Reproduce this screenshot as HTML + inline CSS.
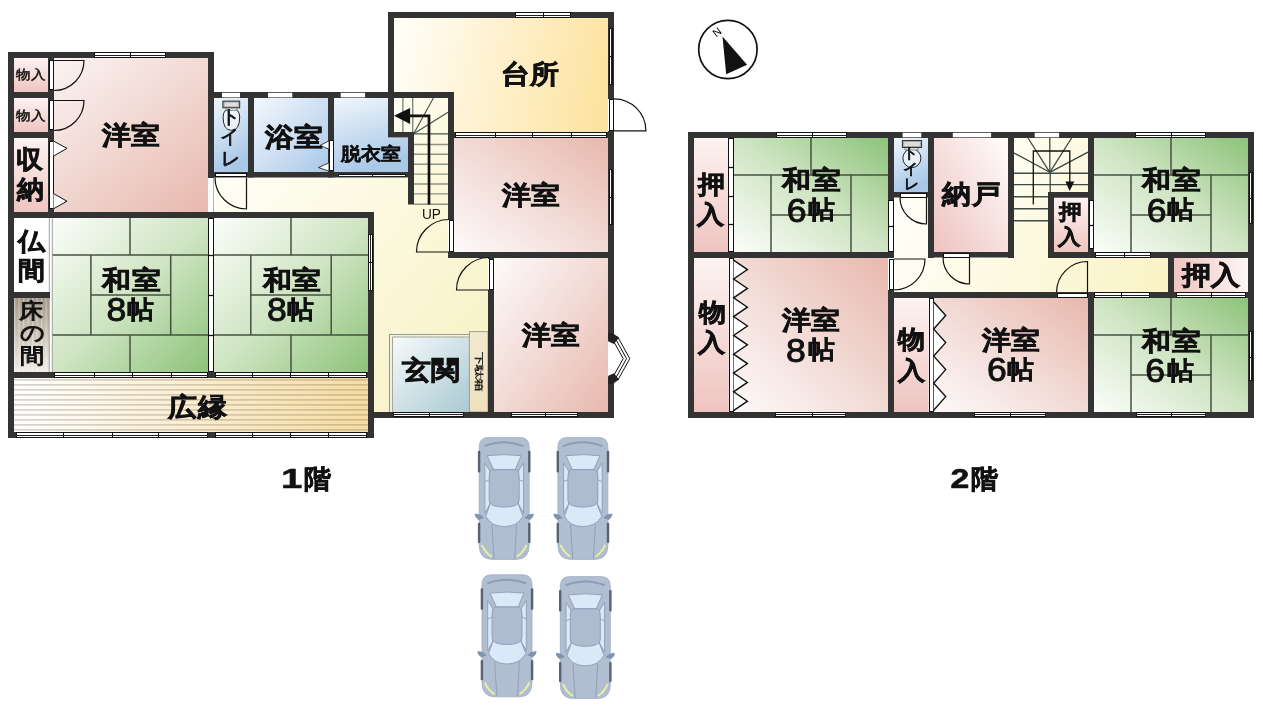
<!DOCTYPE html>
<html><head><meta charset="utf-8"><style>
html,body{margin:0;padding:0;background:#fff;}
svg{display:block;will-change:transform;}
text{font-family:"Liberation Sans",sans-serif;}
</style></head><body>
<svg width="1263" height="708" viewBox="0 0 1263 708">

<defs>
<linearGradient id="pinkTL" x1="0" y1="0" x2="1" y2="1"><stop offset="0" stop-color="#fdfafa"/><stop offset="0.5" stop-color="#f2dad5"/><stop offset="1" stop-color="#e8b8ad"/></linearGradient>
<linearGradient id="pinkBL" x1="0" y1="1" x2="1" y2="0"><stop offset="0" stop-color="#fdfafa"/><stop offset="0.5" stop-color="#f2dad5"/><stop offset="1" stop-color="#e8b8ad"/></linearGradient>
<linearGradient id="pinkTR" x1="1" y1="0" x2="0" y2="1"><stop offset="0" stop-color="#fefcfb"/><stop offset="0.5" stop-color="#f6e0de"/><stop offset="1" stop-color="#eec2c0"/></linearGradient>
<linearGradient id="pinkV" x1="0" y1="0" x2="0" y2="1"><stop offset="0" stop-color="#fcf3f2"/><stop offset="1" stop-color="#efc4c0"/></linearGradient>
<linearGradient id="pinkH" x1="1" y1="0" x2="0" y2="0"><stop offset="0" stop-color="#fdf6f5"/><stop offset="1" stop-color="#efc4c0"/></linearGradient>
<linearGradient id="greenTL" x1="0" y1="0" x2="1" y2="1"><stop offset="0" stop-color="#fbfdfa"/><stop offset="0.5" stop-color="#d0e5c4"/><stop offset="1" stop-color="#8dc37a"/></linearGradient>
<linearGradient id="greenBL" x1="0" y1="1" x2="1" y2="0"><stop offset="0" stop-color="#fbfdfa"/><stop offset="0.5" stop-color="#d0e5c4"/><stop offset="1" stop-color="#8dc37a"/></linearGradient>
<linearGradient id="blueTL" x1="0" y1="0" x2="1" y2="1"><stop offset="0" stop-color="#f4f8fd"/><stop offset="1" stop-color="#a9c8e8"/></linearGradient>
<linearGradient id="blueV" x1="0" y1="0" x2="0.3" y2="1"><stop offset="0" stop-color="#f0f6fc"/><stop offset="1" stop-color="#a9c8e8"/></linearGradient>
<linearGradient id="kitchen" x1="0" y1="0.45" x2="1" y2="0.55"><stop offset="0" stop-color="#fffdf6"/><stop offset="1" stop-color="#fde3a0"/></linearGradient>
<linearGradient id="hall" gradientUnits="userSpaceOnUse" x1="214" y1="178" x2="488" y2="412"><stop offset="0" stop-color="#fffef6"/><stop offset="1" stop-color="#f7f1c0"/></linearGradient>
<linearGradient id="hall2" gradientUnits="userSpaceOnUse" x1="894" y1="200" x2="1168" y2="292"><stop offset="0" stop-color="#fffef8"/><stop offset="1" stop-color="#f9f3c4"/></linearGradient>
<linearGradient id="stairs" x1="0" y1="0" x2="1" y2="1"><stop offset="0" stop-color="#fffef2"/><stop offset="1" stop-color="#faf6d6"/></linearGradient>
<linearGradient id="engawa" x1="0" y1="0" x2="1" y2="0"><stop offset="0" stop-color="#ffffff"/><stop offset="1" stop-color="#f6dca2"/></linearGradient>
<linearGradient id="tokonoma" x1="0" y1="0" x2="0" y2="1"><stop offset="0" stop-color="#a3978a"/><stop offset="0.6" stop-color="#d3ccc0"/><stop offset="1" stop-color="#efece6"/></linearGradient>
<linearGradient id="genkan" x1="0" y1="0" x2="1" y2="1"><stop offset="0" stop-color="#f7fafb"/><stop offset="1" stop-color="#a9c9d2"/></linearGradient>
<linearGradient id="getabako" x1="0" y1="0" x2="0" y2="1"><stop offset="0" stop-color="#f3e9cf"/><stop offset="1" stop-color="#efe1bd"/></linearGradient>
<pattern id="stripes" x="0" y="379" width="10" height="5" patternUnits="userSpaceOnUse"><rect x="0" y="0" width="10" height="1.7" fill="#6e6450" opacity="0.28"/></pattern>
<pattern id="grain" x="14" y="298" width="4.5" height="10" patternUnits="userSpaceOnUse"><rect x="0" y="0" width="1.2" height="10" fill="#fff" opacity="0.35"/></pattern>
</defs>

<rect x="14" y="58" width="194.00" height="154.00" fill="url(#pinkTL)"/>
<rect x="14" y="58" width="34.00" height="34.00" fill="url(#pinkV)"/>
<rect x="14" y="98" width="34.00" height="34.00" fill="url(#pinkV)"/>
<rect x="14" y="138" width="34.00" height="74.00" fill="url(#pinkV)"/>
<rect x="214" y="98" width="34.00" height="74.00" fill="url(#blueV)"/>
<rect x="254" y="98" width="74.00" height="74.00" fill="url(#blueTL)"/>
<path d="M334 98 L388 98 L388 138 L408 138 L408 172 L334 172 Z" fill="url(#blueV)"/>
<path d="M394 18 L608 18 L608 132 L454 132 L454 92 L394 92 Z" fill="url(#kitchen)"/>
<path d="M208 177.5 L408 177.5 L408 204 L448 204 L448 258 L488 258 L488 412 L374 412 L374 212 L208 212 Z" fill="url(#hall)"/>
<path d="M394 98 L448 98 L448 205 L414 205 L414 132 L394 132 Z" fill="url(#stairs)"/>
<rect x="454" y="138" width="154.00" height="114.00" fill="url(#pinkBL)"/>
<rect x="494" y="258" width="114.00" height="154.00" fill="url(#pinkTL)"/>
<rect x="52" y="218" width="156.00" height="154.00" fill="url(#greenTL)"/>
<rect x="214" y="218" width="154.00" height="154.00" fill="url(#greenTL)"/>
<rect x="14" y="218" width="35.00" height="74.00" fill="url(#pinkV)"/>
<rect x="14" y="218" width="35.00" height="74.00" fill="#fff"/>
<rect x="14" y="298" width="35.00" height="74.00" fill="url(#tokonoma)"/>
<rect x="14" y="298" width="35" height="74" fill="url(#grain)"/>
<rect x="14" y="378" width="354.00" height="54.00" fill="url(#engawa)"/>
<rect x="14" y="378" width="354" height="54" fill="url(#stripes)"/>
<rect x="389" y="334" width="80.5" height="78" fill="#f1f2ec"/>
<rect x="392.8" y="337" width="76.50" height="75.00" fill="url(#genkan)"/>
<path d="M389.5 412 L389.5 334.5 L471 334.5" fill="none" stroke="#9a9c84" stroke-width="1.1"/>
<path d="M392.5 412 L392.5 337 L469.5 337" fill="none" stroke="#a4a792" stroke-width="1"/>
<rect x="469.3" y="331.7" width="18.70" height="80.30" fill="url(#getabako)"/>
<rect x="469.3" y="331.7" width="18.7" height="80.3" fill="none" stroke="#8f8a70" stroke-width="0.8"/>
<line x1="130.0" y1="218" x2="130.0" y2="255" stroke="#45523f" stroke-width="1.5"/>
<line x1="52" y1="255" x2="208" y2="255" stroke="#45523f" stroke-width="1.5"/>
<line x1="90.9" y1="255" x2="90.9" y2="335" stroke="#45523f" stroke-width="1.5"/>
<line x1="170.7" y1="255" x2="170.7" y2="335" stroke="#45523f" stroke-width="1.5"/>
<line x1="90.9" y1="295" x2="170.7" y2="295" stroke="#45523f" stroke-width="1.5"/>
<line x1="52" y1="335" x2="208" y2="335" stroke="#45523f" stroke-width="1.5"/>
<line x1="130.0" y1="335" x2="130.0" y2="372" stroke="#45523f" stroke-width="1.5"/>
<line x1="291.0" y1="218" x2="291.0" y2="255" stroke="#45523f" stroke-width="1.5"/>
<line x1="214" y1="255" x2="368" y2="255" stroke="#45523f" stroke-width="1.5"/>
<line x1="250.8" y1="255" x2="250.8" y2="335" stroke="#45523f" stroke-width="1.5"/>
<line x1="331.2" y1="255" x2="331.2" y2="335" stroke="#45523f" stroke-width="1.5"/>
<line x1="250.8" y1="295" x2="331.2" y2="295" stroke="#45523f" stroke-width="1.5"/>
<line x1="214" y1="335" x2="368" y2="335" stroke="#45523f" stroke-width="1.5"/>
<line x1="291.0" y1="335" x2="291.0" y2="372" stroke="#45523f" stroke-width="1.5"/>
<line x1="49.3" y1="218" x2="49.3" y2="372" stroke="#999" stroke-width="0.9"/>
<line x1="52.3" y1="218" x2="52.3" y2="372" stroke="#999" stroke-width="0.9"/>
<line x1="414" y1="144.5" x2="448" y2="144.5" stroke="#8e9384" stroke-width="1.4"/>
<line x1="414" y1="154.2" x2="448" y2="154.2" stroke="#8e9384" stroke-width="1.4"/>
<line x1="414" y1="164.2" x2="448" y2="164.2" stroke="#8e9384" stroke-width="1.4"/>
<line x1="414" y1="174.1" x2="448" y2="174.1" stroke="#8e9384" stroke-width="1.4"/>
<line x1="414" y1="184" x2="448" y2="184" stroke="#8e9384" stroke-width="1.4"/>
<line x1="414" y1="193.9" x2="448" y2="193.9" stroke="#8e9384" stroke-width="1.4"/>
<line x1="414" y1="204.3" x2="448" y2="204.3" stroke="#8e9384" stroke-width="1.4"/>
<line x1="413.7" y1="133.8" x2="448" y2="133.8" stroke="#4a5552" stroke-width="1.2"/>
<line x1="402.9" y1="98" x2="402.9" y2="132.5" stroke="#4a5a56" stroke-width="1"/>
<line x1="412.8" y1="98" x2="412.8" y2="133.8" stroke="#4a5a56" stroke-width="1"/>
<line x1="413.7" y1="133.8" x2="433.4" y2="98" stroke="#3f4f4b" stroke-width="1.1"/>
<line x1="413.7" y1="133.8" x2="448" y2="112.2" stroke="#3f4f4b" stroke-width="1.1"/>
<path d="M429 204.6 L429 115.8 L408 115.8" fill="none" stroke="#111" stroke-width="2.7"/>
<path d="M394 115.8 L410.1 108.1 L410.1 123.9 Z" fill="#111"/>
<rect x="8" y="52" width="6.00" height="386.00" fill="#333333"/>
<rect x="8" y="52" width="206.00" height="6.00" fill="#333333"/>
<rect x="208" y="52" width="6.00" height="126.00" fill="#333333"/>
<rect x="208" y="92" width="246.00" height="6.00" fill="#333333"/>
<rect x="248" y="92" width="6.00" height="85.50" fill="#333333"/>
<rect x="328" y="92" width="6.00" height="85.50" fill="#333333"/>
<rect x="208" y="172" width="206.00" height="5.50" fill="#333333"/>
<rect x="388" y="12" width="6.00" height="125.00" fill="#333333"/>
<rect x="388" y="132" width="26.00" height="5.50" fill="#333333"/>
<rect x="408" y="132" width="6.00" height="72.50" fill="#333333"/>
<rect x="448" y="92" width="6.00" height="166.00" fill="#333333"/>
<rect x="388" y="12" width="226.00" height="6.00" fill="#333333"/>
<rect x="608" y="12" width="6.00" height="406.00" fill="#333333"/>
<rect x="448" y="132" width="166.00" height="6.00" fill="#333333"/>
<rect x="448" y="252" width="166.00" height="6.00" fill="#333333"/>
<rect x="488" y="252" width="6.00" height="166.00" fill="#333333"/>
<rect x="368" y="412" width="246.00" height="6.00" fill="#333333"/>
<rect x="8" y="212" width="366.00" height="6.00" fill="#333333"/>
<rect x="368" y="212" width="6.00" height="226.00" fill="#333333"/>
<rect x="8" y="372" width="366.00" height="6.00" fill="#333333"/>
<rect x="8" y="432" width="366.00" height="6.00" fill="#333333"/>
<rect x="8" y="92" width="46.00" height="6.00" fill="#333333"/>
<rect x="8" y="132" width="46.00" height="6.00" fill="#333333"/>
<rect x="48" y="52" width="6.00" height="160.00" fill="#333333"/>
<rect x="8" y="292" width="42.00" height="6.00" fill="#333333"/>
<rect x="94.5" y="52.5" width="71" height="5" fill="#fff" stroke="#111" stroke-width="1"/>
<line x1="94" y1="55.5" x2="166" y2="55.5" stroke="#222" stroke-width="1"/>
<line x1="130.5" y1="52" x2="130.5" y2="58" stroke="#111" stroke-width="1"/>
<rect x="222" y="92.8" width="18.00" height="4.60" fill="#fff"/>
<rect x="268" y="92.8" width="24.30" height="4.60" fill="#fff"/>
<rect x="340.7" y="92.8" width="24.40" height="4.60" fill="#fff"/>
<rect x="515.5" y="12.5" width="55" height="5" fill="#fff" stroke="#111" stroke-width="1"/>
<line x1="515" y1="15.5" x2="571" y2="15.5" stroke="#222" stroke-width="1"/>
<line x1="543.5" y1="12" x2="543.5" y2="18" stroke="#111" stroke-width="1"/>
<rect x="609.5" y="28.5" width="3" height="56" fill="#fff" stroke="#111" stroke-width="1"/>
<line x1="611.5" y1="28" x2="611.5" y2="85" stroke="#222" stroke-width="1"/>
<line x1="609" y1="56.5" x2="613" y2="56.5" stroke="#111" stroke-width="1"/>
<rect x="455.5" y="132.5" width="151" height="5" fill="#fff" stroke="#111" stroke-width="1"/>
<line x1="455" y1="135.5" x2="607" y2="135.5" stroke="#222" stroke-width="1"/>
<line x1="495.5" y1="132" x2="495.5" y2="138" stroke="#111" stroke-width="1"/>
<line x1="532.5" y1="132" x2="532.5" y2="138" stroke="#111" stroke-width="1"/>
<line x1="571.5" y1="132" x2="571.5" y2="138" stroke="#111" stroke-width="1"/>
<rect x="609.5" y="169.5" width="3" height="55" fill="#fff" stroke="#111" stroke-width="1"/>
<line x1="611.5" y1="169" x2="611.5" y2="225" stroke="#222" stroke-width="1"/>
<line x1="609" y1="197.5" x2="613" y2="197.5" stroke="#111" stroke-width="1"/>
<rect x="393.5" y="412.5" width="70" height="4" fill="#fff" stroke="#111" stroke-width="1"/>
<line x1="393" y1="414.5" x2="464" y2="414.5" stroke="#222" stroke-width="1"/>
<line x1="429.5" y1="412" x2="429.5" y2="417" stroke="#111" stroke-width="1"/>
<rect x="511.5" y="412.5" width="66" height="4" fill="#fff" stroke="#111" stroke-width="1"/>
<line x1="511" y1="414.5" x2="578" y2="414.5" stroke="#222" stroke-width="1"/>
<line x1="545.5" y1="412" x2="545.5" y2="417" stroke="#111" stroke-width="1"/>
<rect x="54.5" y="372.5" width="153" height="5" fill="#fff" stroke="#111" stroke-width="1"/>
<line x1="54" y1="375.5" x2="208" y2="375.5" stroke="#222" stroke-width="1"/>
<line x1="94.5" y1="372" x2="94.5" y2="378" stroke="#111" stroke-width="1"/>
<line x1="132.5" y1="372" x2="132.5" y2="378" stroke="#111" stroke-width="1"/>
<line x1="171.5" y1="372" x2="171.5" y2="378" stroke="#111" stroke-width="1"/>
<rect x="215.5" y="372.5" width="151" height="5" fill="#fff" stroke="#111" stroke-width="1"/>
<line x1="215" y1="375.5" x2="367" y2="375.5" stroke="#222" stroke-width="1"/>
<line x1="252.5" y1="372" x2="252.5" y2="378" stroke="#111" stroke-width="1"/>
<line x1="290.5" y1="372" x2="290.5" y2="378" stroke="#111" stroke-width="1"/>
<line x1="328.5" y1="372" x2="328.5" y2="378" stroke="#111" stroke-width="1"/>
<rect x="16.5" y="432.5" width="191" height="5" fill="#fff" stroke="#111" stroke-width="1"/>
<line x1="16" y1="435.5" x2="208" y2="435.5" stroke="#222" stroke-width="1"/>
<line x1="63.5" y1="432" x2="63.5" y2="438" stroke="#111" stroke-width="1"/>
<line x1="112.5" y1="432" x2="112.5" y2="438" stroke="#111" stroke-width="1"/>
<line x1="158.5" y1="432" x2="158.5" y2="438" stroke="#111" stroke-width="1"/>
<rect x="215.5" y="432.5" width="151" height="5" fill="#fff" stroke="#111" stroke-width="1"/>
<line x1="215" y1="435.5" x2="367" y2="435.5" stroke="#222" stroke-width="1"/>
<line x1="252.5" y1="432" x2="252.5" y2="438" stroke="#111" stroke-width="1"/>
<line x1="290.5" y1="432" x2="290.5" y2="438" stroke="#111" stroke-width="1"/>
<line x1="328.5" y1="432" x2="328.5" y2="438" stroke="#111" stroke-width="1"/>
<rect x="368.5" y="234.5" width="4" height="56" fill="#fff" stroke="#111" stroke-width="1"/>
<line x1="370.5" y1="234" x2="370.5" y2="291" stroke="#222" stroke-width="1"/>
<line x1="368" y1="262.5" x2="373" y2="262.5" stroke="#111" stroke-width="1"/>
<rect x="338.5" y="174.5" width="67" height="2" fill="#fff" stroke="#111" stroke-width="1"/>
<line x1="338" y1="176.5" x2="406" y2="176.5" stroke="#222" stroke-width="1"/>
<line x1="372.5" y1="174" x2="372.5" y2="177" stroke="#111" stroke-width="1"/>
<rect x="208.5" y="218.5" width="5" height="153" fill="#fff" stroke="#111" stroke-width="1"/>
<line x1="208" y1="255.5" x2="214" y2="255.5" stroke="#111" stroke-width="1.3"/>
<line x1="208" y1="295.5" x2="214" y2="295.5" stroke="#111" stroke-width="1.3"/>
<line x1="208" y1="335.5" x2="214" y2="335.5" stroke="#111" stroke-width="1.3"/>
<rect x="208" y="178" width="6" height="34" fill="#fff"/>
<line x1="213.5" y1="178" x2="213.5" y2="212" stroke="#aaa" stroke-width="0.9"/>
<rect x="49.5" y="60.5" width="4" height="29" fill="#fff" stroke="#111" stroke-width="1"/>
<path d="M54 60.5 L84 60.5 A30 30 0 0 1 54 90.5" fill="none" stroke="#111" stroke-width="1.2"/>
<rect x="49.5" y="100.5" width="4" height="29" fill="#fff" stroke="#111" stroke-width="1"/>
<path d="M54 100.5 L84 100.5 A30 30 0 0 1 54 130.5" fill="none" stroke="#111" stroke-width="1.2"/>
<rect x="49.5" y="141.5" width="4" height="67" fill="#fff" stroke="#111" stroke-width="1"/>
<path d="M53.5 141 L67 148.4 L53.5 156 M53.5 193.6 L67 201.2 L53.5 208.8" fill="#fff" stroke="#111" stroke-width="1"/>
<rect x="215.5" y="173.5" width="31" height="3" fill="#fff" stroke="#111" stroke-width="1"/>
<path d="M246.5 177.5 L246.5 209 A31.5 31.5 0 0 1 215 177.5" fill="none" stroke="#111" stroke-width="1.2"/>
<rect x="608" y="99" width="6.00" height="32.00" fill="#fff"/>
<rect x="609.5" y="99.5" width="4" height="31" fill="#fff" stroke="#111" stroke-width="1"/>
<path d="M613.9 130.8 L645.9 130.8 A32 32 0 0 0 613.9 98.8" fill="none" stroke="#111" stroke-width="1.2"/>
<rect x="329.5" y="140.5" width="4" height="30" fill="#fff" stroke="#111" stroke-width="1"/>
<path d="M328.5 141 L320 145.5 L328.5 149 M328.5 163 L318.5 167.5 L328.5 171" fill="#fff" stroke="#111" stroke-width="0.8"/>
<rect x="448" y="220" width="6.00" height="32.00" fill="#fff"/>
<rect x="449.5" y="220.5" width="4" height="31" fill="#fff" stroke="#111" stroke-width="1"/>
<path d="M449 252 L416.5 252 A32.5 32.5 0 0 1 449 219.5" fill="none" stroke="#111" stroke-width="1.2"/>
<rect x="488" y="259" width="6.00" height="31.00" fill="#fff"/>
<rect x="489.5" y="259.5" width="4" height="30" fill="#fff" stroke="#111" stroke-width="1"/>
<path d="M489 290 L456.5 290 A32.5 32.5 0 0 1 489 257.5" fill="none" stroke="#111" stroke-width="1.2"/>
<rect x="608" y="340.8" width="6.00" height="35.60" fill="#fff"/>
<path d="M617.7 336.8 L629.8 358.6 L617.7 380.4 L612.8 377.2 L623.2 358.6 L612.8 340 Z" fill="#fff"/>
<path d="M617.7 336.8 L629.8 358.6 L617.7 380.4" fill="none" stroke="#111" stroke-width="1"/>
<path d="M615.3 338.4 L626.5 358.6 L615.3 378.8" fill="none" stroke="#111" stroke-width="1"/>
<path d="M612.9 340 L623.2 358.6 L612.9 377.2" fill="none" stroke="#111" stroke-width="1"/>
<path d="M608.4 333 L612.3 333 L619 337.6 L614 344 L608.4 341.5 Z M608.4 384.2 L612.3 384.2 L619 379.6 L614 373.2 L608.4 375.7 Z" fill="#222"/>
<path d="M223.1 117 Q223.1 108.6 231.4 108.6 Q239.7 108.6 239.7 117 Q239.7 130.3 231.4 130.3 Q223.1 130.3 223.1 117 Z" fill="#fff" fill-opacity="0.55" stroke="#111" stroke-width="0.9"/>
<rect x="226" y="107.5" width="11" height="3" fill="#ddd" stroke="#555" stroke-width="0.6"/>
<rect x="222.9" y="101.1" width="16.8" height="6.7" fill="#aaa" stroke="#333" stroke-width="1"/>
<rect x="224.6" y="102.5" width="13.4" height="3.9" fill="#ddd"/>
<rect x="694" y="138" width="34.40" height="114.00" fill="url(#pinkV)"/>
<rect x="734" y="138" width="154.00" height="114.00" fill="url(#greenBL)"/>
<rect x="894" y="138" width="34.00" height="54.00" fill="url(#blueV)"/>
<rect x="934" y="138" width="74.00" height="114.00" fill="url(#pinkTR)"/>
<rect x="1014" y="138" width="74.00" height="114.00" fill="url(#stairs)"/>
<rect x="1054" y="197.5" width="34.60" height="54.50" fill="url(#pinkV)"/>
<rect x="1094" y="138" width="154.00" height="114.00" fill="url(#greenBL)"/>
<path d="M894 197.5 L928 197.5 L928 257.5 L1014 257.5 L1014 252 L1168 252 L1168 292 L894 292 Z" fill="url(#hall2)"/>
<rect x="1014" y="221.5" width="34.00" height="30.50" fill="url(#hall2)"/>
<rect x="1174" y="258" width="74.00" height="34.00" fill="url(#pinkH)"/>
<rect x="694" y="258" width="34.80" height="154.00" fill="url(#pinkV)"/>
<rect x="734" y="258" width="154.00" height="154.00" fill="url(#pinkBL)"/>
<rect x="894" y="298" width="34.70" height="114.00" fill="url(#pinkV)"/>
<rect x="934" y="298" width="154.00" height="114.00" fill="url(#pinkBL)"/>
<rect x="1094" y="298" width="154.00" height="114.00" fill="url(#greenBL)"/>
<line x1="811.0" y1="138" x2="811.0" y2="175" stroke="#45523f" stroke-width="1.5"/>
<line x1="734" y1="175" x2="888" y2="175" stroke="#45523f" stroke-width="1.5"/>
<line x1="771" y1="175" x2="771" y2="252" stroke="#45523f" stroke-width="1.5"/>
<line x1="851" y1="175" x2="851" y2="252" stroke="#45523f" stroke-width="1.5"/>
<line x1="771" y1="215" x2="851" y2="215" stroke="#45523f" stroke-width="1.5"/>
<line x1="1171.0" y1="138" x2="1171.0" y2="175" stroke="#45523f" stroke-width="1.5"/>
<line x1="1094" y1="175" x2="1248" y2="175" stroke="#45523f" stroke-width="1.5"/>
<line x1="1131" y1="175" x2="1131" y2="252" stroke="#45523f" stroke-width="1.5"/>
<line x1="1211" y1="175" x2="1211" y2="252" stroke="#45523f" stroke-width="1.5"/>
<line x1="1131" y1="215" x2="1211" y2="215" stroke="#45523f" stroke-width="1.5"/>
<line x1="1171.0" y1="298" x2="1171.0" y2="335" stroke="#45523f" stroke-width="1.5"/>
<line x1="1094" y1="335" x2="1248" y2="335" stroke="#45523f" stroke-width="1.5"/>
<line x1="1131" y1="335" x2="1131" y2="412" stroke="#45523f" stroke-width="1.5"/>
<line x1="1211" y1="335" x2="1211" y2="412" stroke="#45523f" stroke-width="1.5"/>
<line x1="1131" y1="375" x2="1211" y2="375" stroke="#45523f" stroke-width="1.5"/>
<line x1="1049.8" y1="172.3" x2="1014" y2="153" stroke="#3a4743" stroke-width="1.3"/>
<line x1="1049.8" y1="172.3" x2="1028" y2="138" stroke="#3a4743" stroke-width="1.3"/>
<line x1="1049.8" y1="172.3" x2="1049.8" y2="138" stroke="#3a4743" stroke-width="1.3"/>
<line x1="1049.8" y1="172.3" x2="1071.6" y2="138" stroke="#3a4743" stroke-width="1.3"/>
<line x1="1049.8" y1="172.3" x2="1088" y2="152.2" stroke="#3a4743" stroke-width="1.3"/>
<line x1="1014" y1="173.2" x2="1088" y2="173.2" stroke="#3f4b45" stroke-width="1.4"/>
<line x1="1014" y1="184.6" x2="1088" y2="184.6" stroke="#3f4b45" stroke-width="1.4"/>
<line x1="1014" y1="196.7" x2="1088" y2="196.7" stroke="#3f4b45" stroke-width="1.4"/>
<line x1="1014" y1="208.8" x2="1048" y2="208.8" stroke="#3f4b45" stroke-width="1.4"/>
<line x1="1014" y1="220.8" x2="1048" y2="220.8" stroke="#3f4b45" stroke-width="1.4"/>
<line x1="1050.2" y1="172.3" x2="1050.2" y2="192" stroke="#3a4743" stroke-width="1.3"/>
<path d="M1033.3 204.6 L1033.3 151 L1069.8 151 L1069.8 182" fill="none" stroke="#111" stroke-width="1.3"/>
<path d="M1065.4 181.4 L1074.3 181.4 L1069.7 191 Z" fill="#111"/>
<rect x="688" y="132" width="6.00" height="286.00" fill="#333333"/>
<rect x="688" y="132" width="566.00" height="6.00" fill="#333333"/>
<rect x="1248" y="132" width="6.00" height="286.00" fill="#333333"/>
<rect x="688" y="412" width="566.00" height="6.00" fill="#333333"/>
<rect x="688" y="252" width="206.00" height="6.00" fill="#333333"/>
<rect x="888" y="132" width="6.00" height="286.00" fill="#333333"/>
<rect x="928" y="132" width="6.00" height="126.00" fill="#333333"/>
<rect x="888" y="192" width="46.00" height="5.50" fill="#333333"/>
<rect x="1008" y="132" width="6.00" height="126.00" fill="#333333"/>
<rect x="928" y="252" width="86.00" height="5.50" fill="#333333"/>
<rect x="1088" y="132" width="6.00" height="126.00" fill="#333333"/>
<rect x="1048" y="192" width="6.00" height="66.00" fill="#333333"/>
<rect x="1048" y="192" width="46.00" height="5.50" fill="#333333"/>
<rect x="1048" y="252" width="206.00" height="6.00" fill="#333333"/>
<rect x="1168" y="252" width="6.00" height="46.00" fill="#333333"/>
<rect x="888" y="292" width="366.00" height="6.00" fill="#333333"/>
<rect x="1088" y="292" width="6.00" height="126.00" fill="#333333"/>
<rect x="728.5" y="138.5" width="5" height="113" fill="#fff" stroke="#111" stroke-width="1"/>
<line x1="728" y1="167.5" x2="734" y2="167.5" stroke="#111" stroke-width="1.3"/>
<line x1="728" y1="196.5" x2="734" y2="196.5" stroke="#111" stroke-width="1.3"/>
<line x1="728" y1="224.5" x2="734" y2="224.5" stroke="#111" stroke-width="1.3"/>
<rect x="888.5" y="200.5" width="5" height="51" fill="#fff" stroke="#111" stroke-width="1"/>
<line x1="888" y1="226.5" x2="894" y2="226.5" stroke="#111" stroke-width="1.3"/>
<rect x="1089.5" y="200.5" width="4" height="48" fill="#fff" stroke="#111" stroke-width="1"/>
<line x1="1089" y1="225.5" x2="1094" y2="225.5" stroke="#111" stroke-width="1.3"/>
<rect x="776.5" y="132.5" width="70" height="5" fill="#fff" stroke="#111" stroke-width="1"/>
<line x1="776" y1="135.5" x2="847" y2="135.5" stroke="#222" stroke-width="1"/>
<line x1="812.5" y1="132" x2="812.5" y2="138" stroke="#111" stroke-width="1"/>
<rect x="902.6" y="132.8" width="18.70" height="4.50" fill="#fff"/>
<rect x="952.8" y="132.8" width="38.30" height="4.50" fill="#fff"/>
<rect x="1034.7" y="132.8" width="24.40" height="4.50" fill="#fff"/>
<rect x="1135.5" y="132.5" width="70" height="5" fill="#fff" stroke="#111" stroke-width="1"/>
<line x1="1135" y1="135.5" x2="1206" y2="135.5" stroke="#222" stroke-width="1"/>
<line x1="1171.5" y1="132" x2="1171.5" y2="138" stroke="#111" stroke-width="1"/>
<rect x="1249.5" y="172.5" width="3" height="51" fill="#fff" stroke="#111" stroke-width="1"/>
<line x1="1251.5" y1="172" x2="1251.5" y2="224" stroke="#222" stroke-width="1"/>
<line x1="1249" y1="198.5" x2="1253" y2="198.5" stroke="#111" stroke-width="1"/>
<rect x="1095.5" y="252.5" width="55" height="5" fill="#fff" stroke="#111" stroke-width="1"/>
<line x1="1095" y1="255.5" x2="1151" y2="255.5" stroke="#222" stroke-width="1"/>
<line x1="1124.5" y1="252" x2="1124.5" y2="258" stroke="#111" stroke-width="1"/>
<rect x="1094.5" y="292.5" width="55" height="5" fill="#fff" stroke="#111" stroke-width="1"/>
<line x1="1094" y1="295.5" x2="1150" y2="295.5" stroke="#222" stroke-width="1"/>
<line x1="1121.5" y1="292" x2="1121.5" y2="298" stroke="#111" stroke-width="1"/>
<rect x="1176.5" y="292.5" width="69" height="5" fill="#fff" stroke="#111" stroke-width="1"/>
<line x1="1176" y1="295.5" x2="1246" y2="295.5" stroke="#222" stroke-width="1"/>
<line x1="1211.5" y1="292" x2="1211.5" y2="298" stroke="#111" stroke-width="1"/>
<rect x="775.5" y="412.5" width="70" height="4" fill="#fff" stroke="#111" stroke-width="1"/>
<line x1="775" y1="414.5" x2="846" y2="414.5" stroke="#222" stroke-width="1"/>
<line x1="812.5" y1="412" x2="812.5" y2="417" stroke="#111" stroke-width="1"/>
<rect x="974.5" y="412.5" width="71" height="4" fill="#fff" stroke="#111" stroke-width="1"/>
<line x1="974" y1="414.5" x2="1046" y2="414.5" stroke="#222" stroke-width="1"/>
<line x1="1010.5" y1="412" x2="1010.5" y2="417" stroke="#111" stroke-width="1"/>
<rect x="1136.5" y="412.5" width="69" height="4" fill="#fff" stroke="#111" stroke-width="1"/>
<line x1="1136" y1="414.5" x2="1206" y2="414.5" stroke="#222" stroke-width="1"/>
<line x1="1171.5" y1="412" x2="1171.5" y2="417" stroke="#111" stroke-width="1"/>
<rect x="1249.5" y="331.5" width="3" height="49" fill="#fff" stroke="#111" stroke-width="1"/>
<line x1="1251.5" y1="331" x2="1251.5" y2="381" stroke="#222" stroke-width="1"/>
<line x1="1249" y1="357.5" x2="1253" y2="357.5" stroke="#111" stroke-width="1"/>
<rect x="900.5" y="193.5" width="26" height="4" fill="#fff" stroke="#111" stroke-width="1"/>
<path d="M926.5 197.5 L926.5 224 A26.5 26.5 0 0 1 900 197.5" fill="none" stroke="#111" stroke-width="1.2"/>
<rect x="943.5" y="253.5" width="26" height="4" fill="#fff" stroke="#111" stroke-width="1"/>
<path d="M969.5 257.5 L969.5 284 A26.5 26.5 0 0 1 943 257.5" fill="none" stroke="#111" stroke-width="1.2"/>
<rect x="888" y="258" width="6.00" height="32.00" fill="#fff"/>
<rect x="889.5" y="259.5" width="4" height="30" fill="#fff" stroke="#111" stroke-width="1"/>
<path d="M894 259 L925 259 A31 31 0 0 1 894 290" fill="none" stroke="#111" stroke-width="1.2"/>
<rect x="1057.5" y="293.5" width="30" height="4" fill="#fff" stroke="#111" stroke-width="1"/>
<path d="M1087.5 292.5 L1087.5 261.5 A31 31 0 0 0 1056.5 292.5" fill="none" stroke="#111" stroke-width="1.2"/>
<rect x="729.5" y="258.5" width="4" height="153" fill="#fff" stroke="#111" stroke-width="1"/>
<path d="M733.6 260.2 L747.4 269.6 L733.6 279.0 L747.4 288.4 L733.6 297.8 L747.4 307.2 L733.6 316.6 L747.4 326.0 L733.6 335.4 L747.4 344.8 L733.6 354.2 L747.4 363.6 L733.6 373.0 L747.4 382.4 L733.6 391.8 L747.4 401.2 L733.6 410.6" fill="#fff" stroke="#111" stroke-width="1.4" stroke-linejoin="miter"/>
<rect x="929.5" y="298.5" width="4" height="113" fill="#fff" stroke="#111" stroke-width="1"/>
<path d="M933.7 302 L945.7 315.5 L933.7 329.1 L945.7 342.6 L933.7 356.1 L945.7 369.6 L933.7 383.2 L945.7 396.6 L933.7 410.2" fill="#fff" stroke="#111" stroke-width="1.4" stroke-linejoin="miter"/>
<ellipse cx="911.9" cy="158.2" rx="9" ry="9.4" fill="#fff" fill-opacity="0.55" stroke="#111" stroke-width="0.9"/>
<rect x="905" y="147.5" width="13" height="2.5" fill="#ddd" stroke="#555" stroke-width="0.6"/>
<rect x="902.4" y="140.5" width="19.2" height="7" fill="#aaa" stroke="#333" stroke-width="1"/>
<rect x="904.2" y="142" width="15.6" height="4" fill="#ddd"/>
<circle cx="727.9" cy="49.5" r="29.2" fill="#fff" stroke="#111" stroke-width="1.7"/>
<path d="M722.5 36.6 L747.1 64.8 L726.2 74.2 Z" fill="#111"/>
<text x="0" y="0" font-size="11" font-family="Liberation Sans" transform="translate(716.2,37.5) rotate(-38)">N</text>
<g transform="translate(479.2,437.1)"><path d="M9 0.3 L41 0.3 Q50 0.5 50 10 L50 108 Q50 122.3 37 122.3 L13 122.3 Q0 122.3 0 108 L0 10 Q0 0.5 9 0.3 Z" fill="#b1bdd1" stroke="#9fadc2" stroke-width="0.8"/><rect x="-1.3" y="13.7" width="2.4" height="21.6" rx="1" fill="#596273"/><rect x="48.9" y="13.7" width="2.4" height="21.6" rx="1" fill="#596273"/><rect x="-1.3" y="85.6" width="2.4" height="20.2" rx="1" fill="#596273"/><rect x="48.9" y="85.6" width="2.4" height="20.2" rx="1" fill="#596273"/><path d="M5.2 9 Q25 1.5 44.3 9" fill="none" stroke="#8d9cb5" stroke-width="2"/><path d="M8 18.6 Q25 16.5 42 18.6 L36 32.5 L14.4 32.5 Z" fill="#dbe8f7" stroke="#8d9cb5" stroke-width="0.9"/><path d="M5.7 26 L10.7 34 L10.7 67 L5.7 76 Z M44.3 26 L39.3 34 L39.3 67 L44.3 76 Z" fill="#dbe8f7" stroke="#8d9cb5" stroke-width="0.9"/><path d="M5.7 44.5 L10.7 42.5 M44.3 44.5 L39.3 42.5" stroke="#8d9cb5" stroke-width="0.9"/><path d="M11.2 66.3 L38.8 66.3 L43.8 79.2 Q38 89.5 25 89.5 Q12 89.5 6.6 79.2 Z" fill="#dbe8f7" stroke="#8d9cb5" stroke-width="0.9"/><path d="M13.5 32.5 L36.5 32.5 Q40 33 40 40 L40 63 Q40 70 25 70 Q10 70 10 63 L10 40 Q10 33 13.5 32.5 Z" fill="#afbbd0" stroke="#8d9cb5" stroke-width="0.9"/><path d="M12.6 87.4 L14.9 121.5 M37.4 87.4 L35.5 121.5" stroke="#8d9cb5" stroke-width="0.9"/><path d="M1 77.5 L-4.3 76.5 Q-5 80 -0.7 82.8 L4.8 81 Z M49 77.5 L54.3 76.5 Q55 80 50.7 82.8 L45.2 81 Z" fill="#8194ae"/><path d="M2.6 107.8 Q6 115.5 12.4 119.6 M47.4 107.8 Q44 115.5 37.6 119.6" fill="none" stroke="#e9efa2" stroke-width="2"/></g>
<g transform="translate(557.9,437.1)"><path d="M9 0.3 L41 0.3 Q50 0.5 50 10 L50 108 Q50 122.3 37 122.3 L13 122.3 Q0 122.3 0 108 L0 10 Q0 0.5 9 0.3 Z" fill="#b1bdd1" stroke="#9fadc2" stroke-width="0.8"/><rect x="-1.3" y="13.7" width="2.4" height="21.6" rx="1" fill="#596273"/><rect x="48.9" y="13.7" width="2.4" height="21.6" rx="1" fill="#596273"/><rect x="-1.3" y="85.6" width="2.4" height="20.2" rx="1" fill="#596273"/><rect x="48.9" y="85.6" width="2.4" height="20.2" rx="1" fill="#596273"/><path d="M5.2 9 Q25 1.5 44.3 9" fill="none" stroke="#8d9cb5" stroke-width="2"/><path d="M8 18.6 Q25 16.5 42 18.6 L36 32.5 L14.4 32.5 Z" fill="#dbe8f7" stroke="#8d9cb5" stroke-width="0.9"/><path d="M5.7 26 L10.7 34 L10.7 67 L5.7 76 Z M44.3 26 L39.3 34 L39.3 67 L44.3 76 Z" fill="#dbe8f7" stroke="#8d9cb5" stroke-width="0.9"/><path d="M5.7 44.5 L10.7 42.5 M44.3 44.5 L39.3 42.5" stroke="#8d9cb5" stroke-width="0.9"/><path d="M11.2 66.3 L38.8 66.3 L43.8 79.2 Q38 89.5 25 89.5 Q12 89.5 6.6 79.2 Z" fill="#dbe8f7" stroke="#8d9cb5" stroke-width="0.9"/><path d="M13.5 32.5 L36.5 32.5 Q40 33 40 40 L40 63 Q40 70 25 70 Q10 70 10 63 L10 40 Q10 33 13.5 32.5 Z" fill="#afbbd0" stroke="#8d9cb5" stroke-width="0.9"/><path d="M12.6 87.4 L14.9 121.5 M37.4 87.4 L35.5 121.5" stroke="#8d9cb5" stroke-width="0.9"/><path d="M1 77.5 L-4.3 76.5 Q-5 80 -0.7 82.8 L4.8 81 Z M49 77.5 L54.3 76.5 Q55 80 50.7 82.8 L45.2 81 Z" fill="#8194ae"/><path d="M2.6 107.8 Q6 115.5 12.4 119.6 M47.4 107.8 Q44 115.5 37.6 119.6" fill="none" stroke="#e9efa2" stroke-width="2"/></g>
<g transform="translate(482,574.5)"><path d="M9 0.3 L41 0.3 Q50 0.5 50 10 L50 108 Q50 122.3 37 122.3 L13 122.3 Q0 122.3 0 108 L0 10 Q0 0.5 9 0.3 Z" fill="#b1bdd1" stroke="#9fadc2" stroke-width="0.8"/><rect x="-1.3" y="13.7" width="2.4" height="21.6" rx="1" fill="#596273"/><rect x="48.9" y="13.7" width="2.4" height="21.6" rx="1" fill="#596273"/><rect x="-1.3" y="85.6" width="2.4" height="20.2" rx="1" fill="#596273"/><rect x="48.9" y="85.6" width="2.4" height="20.2" rx="1" fill="#596273"/><path d="M5.2 9 Q25 1.5 44.3 9" fill="none" stroke="#8d9cb5" stroke-width="2"/><path d="M8 18.6 Q25 16.5 42 18.6 L36 32.5 L14.4 32.5 Z" fill="#dbe8f7" stroke="#8d9cb5" stroke-width="0.9"/><path d="M5.7 26 L10.7 34 L10.7 67 L5.7 76 Z M44.3 26 L39.3 34 L39.3 67 L44.3 76 Z" fill="#dbe8f7" stroke="#8d9cb5" stroke-width="0.9"/><path d="M5.7 44.5 L10.7 42.5 M44.3 44.5 L39.3 42.5" stroke="#8d9cb5" stroke-width="0.9"/><path d="M11.2 66.3 L38.8 66.3 L43.8 79.2 Q38 89.5 25 89.5 Q12 89.5 6.6 79.2 Z" fill="#dbe8f7" stroke="#8d9cb5" stroke-width="0.9"/><path d="M13.5 32.5 L36.5 32.5 Q40 33 40 40 L40 63 Q40 70 25 70 Q10 70 10 63 L10 40 Q10 33 13.5 32.5 Z" fill="#afbbd0" stroke="#8d9cb5" stroke-width="0.9"/><path d="M12.6 87.4 L14.9 121.5 M37.4 87.4 L35.5 121.5" stroke="#8d9cb5" stroke-width="0.9"/><path d="M1 77.5 L-4.3 76.5 Q-5 80 -0.7 82.8 L4.8 81 Z M49 77.5 L54.3 76.5 Q55 80 50.7 82.8 L45.2 81 Z" fill="#8194ae"/><path d="M2.6 107.8 Q6 115.5 12.4 119.6 M47.4 107.8 Q44 115.5 37.6 119.6" fill="none" stroke="#e9efa2" stroke-width="2"/></g>
<g transform="translate(560.3,576.3)"><path d="M9 0.3 L41 0.3 Q50 0.5 50 10 L50 108 Q50 122.3 37 122.3 L13 122.3 Q0 122.3 0 108 L0 10 Q0 0.5 9 0.3 Z" fill="#b1bdd1" stroke="#9fadc2" stroke-width="0.8"/><rect x="-1.3" y="13.7" width="2.4" height="21.6" rx="1" fill="#596273"/><rect x="48.9" y="13.7" width="2.4" height="21.6" rx="1" fill="#596273"/><rect x="-1.3" y="85.6" width="2.4" height="20.2" rx="1" fill="#596273"/><rect x="48.9" y="85.6" width="2.4" height="20.2" rx="1" fill="#596273"/><path d="M5.2 9 Q25 1.5 44.3 9" fill="none" stroke="#8d9cb5" stroke-width="2"/><path d="M8 18.6 Q25 16.5 42 18.6 L36 32.5 L14.4 32.5 Z" fill="#dbe8f7" stroke="#8d9cb5" stroke-width="0.9"/><path d="M5.7 26 L10.7 34 L10.7 67 L5.7 76 Z M44.3 26 L39.3 34 L39.3 67 L44.3 76 Z" fill="#dbe8f7" stroke="#8d9cb5" stroke-width="0.9"/><path d="M5.7 44.5 L10.7 42.5 M44.3 44.5 L39.3 42.5" stroke="#8d9cb5" stroke-width="0.9"/><path d="M11.2 66.3 L38.8 66.3 L43.8 79.2 Q38 89.5 25 89.5 Q12 89.5 6.6 79.2 Z" fill="#dbe8f7" stroke="#8d9cb5" stroke-width="0.9"/><path d="M13.5 32.5 L36.5 32.5 Q40 33 40 40 L40 63 Q40 70 25 70 Q10 70 10 63 L10 40 Q10 33 13.5 32.5 Z" fill="#afbbd0" stroke="#8d9cb5" stroke-width="0.9"/><path d="M12.6 87.4 L14.9 121.5 M37.4 87.4 L35.5 121.5" stroke="#8d9cb5" stroke-width="0.9"/><path d="M1 77.5 L-4.3 76.5 Q-5 80 -0.7 82.8 L4.8 81 Z M49 77.5 L54.3 76.5 Q55 80 50.7 82.8 L45.2 81 Z" fill="#8194ae"/><path d="M2.6 107.8 Q6 115.5 12.4 119.6 M47.4 107.8 Q44 115.5 37.6 119.6" fill="none" stroke="#e9efa2" stroke-width="2"/></g>
<g font-family="Liberation Sans, sans-serif" fill="#111" stroke="#111">
<text transform="matrix(1.000 0 0 0.900 131.15 143.70)" font-size="29" font-weight="bold" text-anchor="middle" stroke-width="0.75">洋室</text>
<text transform="matrix(1.000 0 0 0.900 294.30 145.65)" font-size="29" font-weight="bold" text-anchor="middle" stroke-width="0.75">浴室</text>
<text transform="matrix(1.000 0 0 0.900 371.00 160.10)" font-size="19.5" font-weight="bold" text-anchor="middle" stroke-width="0.504">脱衣室</text>
<text transform="matrix(1.000 0 0 1.000 230.35 122.80)" font-size="19" font-weight="normal" text-anchor="middle" stroke-width="0.8">ト</text>
<text transform="matrix(1.000 0 0 1.000 229.45 143.45)" font-size="19" font-weight="normal" text-anchor="middle" stroke-width="0.8">イ</text>
<text transform="matrix(1.000 0 0 1.000 230.70 164.60)" font-size="19" font-weight="normal" text-anchor="middle" stroke-width="0.8">レ</text>
<text transform="matrix(1.000 0 0 0.900 530.10 83.45)" font-size="29" font-weight="bold" text-anchor="middle" stroke-width="0.75">台所</text>
<text transform="matrix(1.000 0 0 0.900 531.05 203.80)" font-size="29" font-weight="bold" text-anchor="middle" stroke-width="0.75">洋室</text>
<text transform="matrix(1.000 0 0 0.900 551.15 343.85)" font-size="29" font-weight="bold" text-anchor="middle" stroke-width="0.75">洋室</text>
<text transform="matrix(1.000 0 0 0.900 431.10 379.10)" font-size="29" font-weight="bold" text-anchor="middle" stroke-width="0.75">玄関</text>
<text transform="matrix(1.000 0 0 0.900 131.80 289.00)" font-size="29" font-weight="bold" text-anchor="middle" stroke-width="0.75">和室</text>
<text transform="matrix(1.080 0 0 1.000 116.50 321.25)" font-size="33" font-weight="normal" text-anchor="middle" stroke-width="0.9">8</text>
<text transform="matrix(0.946 0 0 0.880 140.55 317.90)" font-size="28" font-weight="bold" text-anchor="middle" stroke-width="0.35">帖</text>
<text transform="matrix(1.000 0 0 0.900 292.20 289.00)" font-size="29" font-weight="bold" text-anchor="middle" stroke-width="0.75">和室</text>
<text transform="matrix(1.080 0 0 1.000 276.90 321.25)" font-size="33" font-weight="normal" text-anchor="middle" stroke-width="0.9">8</text>
<text transform="matrix(0.946 0 0 0.880 300.95 317.90)" font-size="28" font-weight="bold" text-anchor="middle" stroke-width="0.35">帖</text>
<text transform="matrix(1.000 0 0 0.900 197.60 416.25)" font-size="29" font-weight="bold" text-anchor="middle" stroke-width="0.75">広縁</text>
<text transform="matrix(0.970 0 0 0.900 29.75 167.50)" font-size="28" font-weight="bold" text-anchor="middle" stroke-width="0.724">収</text>
<text transform="matrix(0.970 0 0 0.900 30.95 197.80)" font-size="28" font-weight="bold" text-anchor="middle" stroke-width="0.724">納</text>
<text transform="matrix(0.970 0 0 0.900 31.55 249.55)" font-size="28" font-weight="bold" text-anchor="middle" stroke-width="0.724">仏</text>
<text transform="matrix(0.970 0 0 0.900 31.55 279.00)" font-size="28" font-weight="bold" text-anchor="middle" stroke-width="0.724">間</text>
<text transform="matrix(1.100 0 0 0.950 31.45 317.50)" font-size="22" font-weight="normal" text-anchor="middle" stroke-width="1.0">床</text>
<text transform="matrix(1.100 0 0 0.950 32.55 340.10)" font-size="22" font-weight="normal" text-anchor="middle" stroke-width="1.0">の</text>
<text transform="matrix(1.100 0 0 0.950 32.05 363.45)" font-size="22" font-weight="normal" text-anchor="middle" stroke-width="1.0">間</text>
<text transform="matrix(1.000 0 0 0.900 31.20 79.30)" font-size="14.5" font-weight="normal" text-anchor="middle" stroke-width="0.55">物入</text>
<text transform="matrix(1.000 0 0 0.900 31.20 119.85)" font-size="14.5" font-weight="normal" text-anchor="middle" stroke-width="0.55">物入</text>
<text transform="matrix(1.400 0 0 1.020 291.85 487.90)" font-size="27" font-weight="bold" text-anchor="middle" stroke-width="0.6">1</text>
<text transform="matrix(0.930 0 0 0.900 317.80 487.95)" font-size="29" font-weight="bold" text-anchor="middle" stroke-width="0.75">階</text>
<text transform="matrix(1.250 0 0 1.020 959.90 487.90)" font-size="27" font-weight="bold" text-anchor="middle" stroke-width="0.6">2</text>
<text transform="matrix(0.930 0 0 0.900 984.80 487.95)" font-size="29" font-weight="bold" text-anchor="middle" stroke-width="0.75">階</text>
<text transform="matrix(0.970 0 0 0.900 711.40 192.70)" font-size="28" font-weight="bold" text-anchor="middle" stroke-width="0.724">押</text>
<text transform="matrix(0.970 0 0 0.900 710.90 222.60)" font-size="28" font-weight="bold" text-anchor="middle" stroke-width="0.724">入</text>
<text transform="matrix(1.000 0 0 0.900 811.65 189.15)" font-size="29" font-weight="bold" text-anchor="middle" stroke-width="0.75">和室</text>
<text transform="matrix(1.080 0 0 1.000 796.60 221.55)" font-size="33" font-weight="normal" text-anchor="middle" stroke-width="0.9">6</text>
<text transform="matrix(0.946 0 0 0.880 821.25 218.20)" font-size="28" font-weight="bold" text-anchor="middle" stroke-width="0.35">帖</text>
<text transform="matrix(1.000 0 0 1.000 910.25 157.75)" font-size="15" font-weight="normal" text-anchor="middle" stroke-width="0.8">ト</text>
<text transform="matrix(1.000 0 0 1.000 910.60 174.45)" font-size="15" font-weight="normal" text-anchor="middle" stroke-width="0.8">イ</text>
<text transform="matrix(1.000 0 0 1.000 911.20 188.65)" font-size="15" font-weight="normal" text-anchor="middle" stroke-width="0.8">レ</text>
<text transform="matrix(1.000 0 0 0.900 971.55 202.60)" font-size="29" font-weight="bold" text-anchor="middle" stroke-width="0.75">納戸</text>
<text transform="matrix(0.970 0 0 0.900 1070.35 219.25)" font-size="23" font-weight="bold" text-anchor="middle" stroke-width="0.595">押</text>
<text transform="matrix(0.970 0 0 0.900 1069.85 244.35)" font-size="23" font-weight="bold" text-anchor="middle" stroke-width="0.595">入</text>
<text transform="matrix(1.000 0 0 0.900 1171.55 189.15)" font-size="29" font-weight="bold" text-anchor="middle" stroke-width="0.75">和室</text>
<text transform="matrix(1.080 0 0 1.000 1156.60 221.80)" font-size="33" font-weight="normal" text-anchor="middle" stroke-width="0.9">6</text>
<text transform="matrix(0.946 0 0 0.880 1180.75 218.45)" font-size="28" font-weight="bold" text-anchor="middle" stroke-width="0.35">帖</text>
<text transform="matrix(1.000 0 0 0.900 1211.30 283.70)" font-size="29" font-weight="bold" text-anchor="middle" stroke-width="0.75">押入</text>
<text transform="matrix(0.970 0 0 0.900 712.30 320.80)" font-size="28" font-weight="bold" text-anchor="middle" stroke-width="0.724">物</text>
<text transform="matrix(0.970 0 0 0.900 711.80 350.65)" font-size="28" font-weight="bold" text-anchor="middle" stroke-width="0.724">入</text>
<text transform="matrix(1.000 0 0 0.900 811.20 329.05)" font-size="29" font-weight="bold" text-anchor="middle" stroke-width="0.75">洋室</text>
<text transform="matrix(1.080 0 0 1.000 795.90 361.65)" font-size="33" font-weight="normal" text-anchor="middle" stroke-width="0.9">8</text>
<text transform="matrix(0.946 0 0 0.880 821.35 358.30)" font-size="28" font-weight="bold" text-anchor="middle" stroke-width="0.35">帖</text>
<text transform="matrix(0.970 0 0 0.900 911.50 348.15)" font-size="28" font-weight="bold" text-anchor="middle" stroke-width="0.724">物</text>
<text transform="matrix(0.970 0 0 0.900 911.00 378.60)" font-size="28" font-weight="bold" text-anchor="middle" stroke-width="0.724">入</text>
<text transform="matrix(1.000 0 0 0.900 1011.35 348.50)" font-size="29" font-weight="bold" text-anchor="middle" stroke-width="0.75">洋室</text>
<text transform="matrix(1.080 0 0 1.000 997.00 381.45)" font-size="33" font-weight="normal" text-anchor="middle" stroke-width="0.9">6</text>
<text transform="matrix(0.946 0 0 0.880 1020.55 378.10)" font-size="28" font-weight="bold" text-anchor="middle" stroke-width="0.35">帖</text>
<text transform="matrix(1.000 0 0 0.900 1171.90 349.75)" font-size="29" font-weight="bold" text-anchor="middle" stroke-width="0.75">和室</text>
<text transform="matrix(1.080 0 0 1.000 1155.10 382.25)" font-size="33" font-weight="normal" text-anchor="middle" stroke-width="0.9">6</text>
<text transform="matrix(0.946 0 0 0.880 1180.65 378.90)" font-size="28" font-weight="bold" text-anchor="middle" stroke-width="0.35">帖</text>
</g>
<text x="431.5" y="219.3" font-size="15.5" text-anchor="middle" font-family="Liberation Sans, sans-serif" fill="#111" textLength="19" lengthAdjust="spacingAndGlyphs">UP</text>
<text x="0" y="0" font-size="13.2" font-weight="bold" font-family="Liberation Sans, sans-serif" fill="#222" transform="translate(476.3,352) rotate(90) scale(1,0.66)" textLength="39.5" lengthAdjust="spacingAndGlyphs">下駄箱</text>
</svg>
</body></html>
